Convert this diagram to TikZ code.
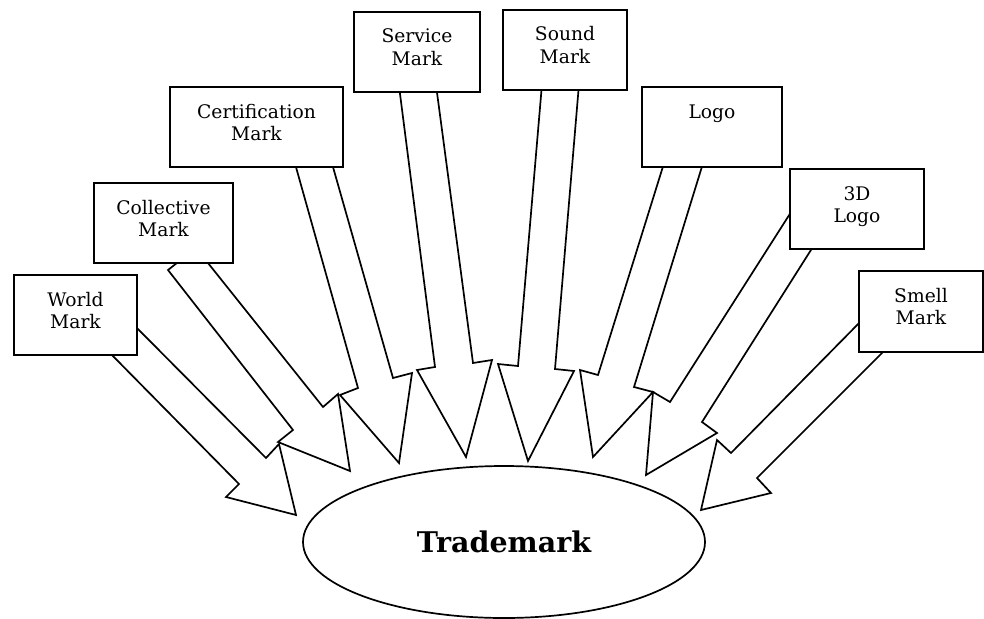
\documentclass[tikz,border=0pt]{standalone}
\usepackage{fontspec}
\setmainfont{DejaVu Serif}
\usetikzlibrary{shapes.geometric}
\tikzset{
  boxst/.style={draw=black, fill=white, line width=1.7pt, rectangle, inner sep=0pt},
  arrowst/.style={draw=black, fill=white, line width=1.7pt, line join=miter},
  lbl/.style={anchor=base, inner sep=0pt, font=\fontsize{18.7}{22.7}\selectfont},
  tmst/.style={draw=black, fill=white, line width=1.7pt, ellipse, inner sep=0pt,
    minimum width=402pt, minimum height=152pt, font=\fontsize{28.5}{32}\selectfont\bfseries}
}
\newcommand{\twoline}[2]{\begin{tabular}[t]{@{}c@{}}#1\\#2\end{tabular}}
\begin{document}
\begin{tikzpicture}[x=1pt, y=-1pt]
\useasboundingbox (0,0) rectangle (984,618);
\renewcommand{\arraystretch}{1}
% block arrows
\draw[arrowst] (108,351) -- (239,484) -- (226,497) -- (296,515) -- (279,444) -- (266,458) -- (133,324) -- cycle;
\draw[arrowst] (168,270) -- (293,430) -- (278,442) -- (350,471) -- (338,394) -- (323,407) -- (196,248) -- cycle;
\draw[arrowst] (294,160) -- (358,388) -- (340,395) -- (399,463) -- (412,373) -- (393,378) -- (331,160) -- cycle;
\draw[arrowst] (399,86) -- (435,367) -- (417,370) -- (466,457) -- (492,360) -- (473,363) -- (436,85) -- cycle;
\draw[arrowst] (542,84) -- (518,366) -- (498,364) -- (528,461) -- (574,371) -- (555,369) -- (579,84) -- cycle;
\draw[arrowst] (665,160) -- (598,375) -- (580,370) -- (593,457) -- (653,392) -- (634,387) -- (704,160) -- cycle;
\draw[arrowst] (793,209) -- (670,402) -- (653,392) -- (646,475) -- (717,433) -- (702,422) -- (816,242) -- cycle;
\draw[arrowst] (865,317) -- (731,453) -- (717,440) -- (701,510) -- (771,493) -- (757,478) -- (888,347) -- cycle;
% boxes
\node[boxst, minimum width=123pt, minimum height=80pt] (world) at (75.5,315) {};
\node[boxst, minimum width=139pt, minimum height=80pt] (coll) at (163.5,223) {};
\node[boxst, minimum width=173pt, minimum height=80pt] (cert) at (256.5,127) {};
\node[boxst, minimum width=126pt, minimum height=80pt] (serv) at (417,52) {};
\node[boxst, minimum width=124pt, minimum height=80pt] (sound) at (565,50) {};
\node[boxst, minimum width=140pt, minimum height=80pt] (logo) at (712,127) {};
\node[boxst, minimum width=134pt, minimum height=80pt] (tdlogo) at (857,209) {};
\node[boxst, minimum width=124pt, minimum height=81pt] (smell) at (921,311.5) {};
% labels
\node[lbl] (worldt) at (75.5,306) {\twoline{World}{Mark}};
\node[lbl] (collt) at (163.5,214) {\twoline{Collective}{Mark}};
\node[lbl] (certt) at (256.5,118) {\twoline{Certification}{Mark}};
\node[lbl] (servt) at (417,43) {\twoline{Service}{Mark}};
\node[lbl] (soundt) at (565,41) {\twoline{Sound}{Mark}};
\node[lbl] (logot) at (712,118) {Logo};
\node[lbl] (tdlogot) at (857,200) {\twoline{3D}{Logo}};
\node[lbl] (smellt) at (921,302) {\twoline{Smell}{Mark}};
% centre
\node[tmst] (tm) at (504,542) {Trademark};
\end{tikzpicture}
\end{document}
